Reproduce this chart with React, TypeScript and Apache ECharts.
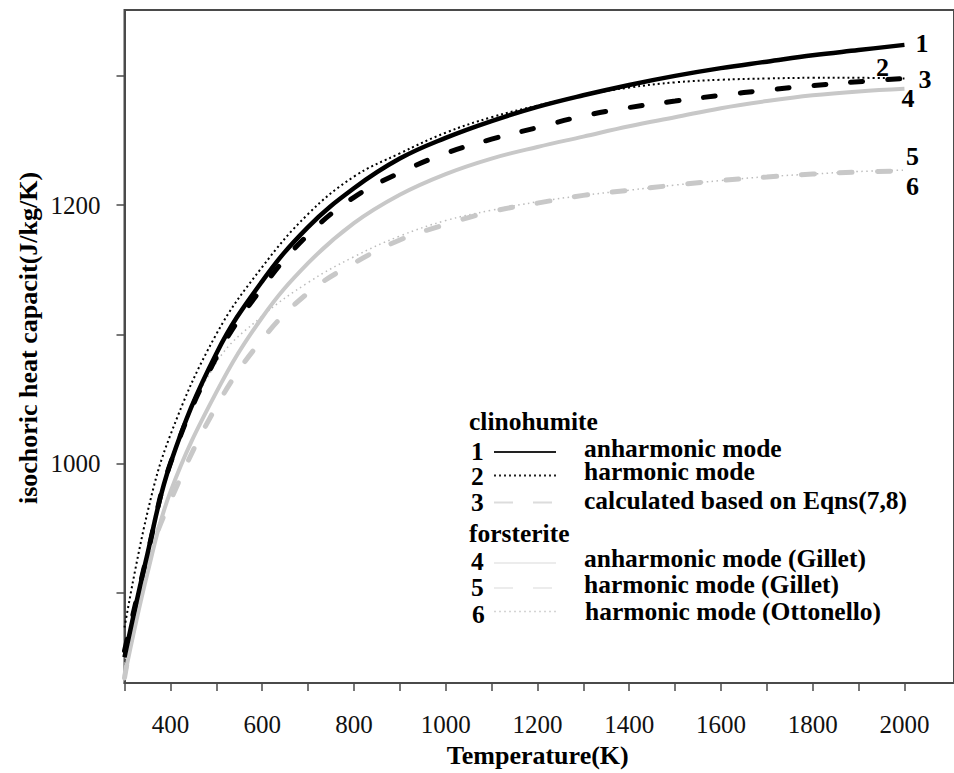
import React, { useEffect, useRef } from "react";
import * as echarts from "echarts";

// Temperature grid (K) shared by all curves
const temps = [300, 350, 400, 500, 600, 700, 800, 900, 1000, 1100, 1200, 1300, 1400, 1500, 1600, 1700, 1800, 1900, 2000];

// Clinohumite isochoric heat capacity (J/kg/K)
const clinoAnharmonic = [850, 930, 1000, 1085, 1141, 1183, 1213, 1236, 1252, 1265, 1276, 1285, 1293, 1300, 1306, 1311, 1316, 1320, 1324];
const clinoHarmonic = [873, 962, 1022, 1100, 1152, 1193, 1222, 1240, 1256, 1268, 1277, 1285, 1291, 1295, 1297, 1298, 1298.5, 1298.5, 1298];
const clinoEqns = [855, 930, 1000, 1082, 1136, 1177, 1206, 1225, 1240, 1251, 1260, 1269, 1275.5, 1280.5, 1285, 1289, 1292.5, 1295.5, 1298];

// Forsterite isochoric heat capacity (J/kg/K)
const forsAnharmonicGillet = [835, 915, 978, 1055, 1113, 1155, 1186, 1208, 1224, 1236, 1245, 1253, 1261, 1268, 1275, 1280.5, 1285, 1288, 1290];
const forsHarmonicGillet = [834, 922, 971, 1044, 1096, 1132, 1155, 1173, 1185, 1195, 1201.5, 1207.5, 1211.5, 1215.5, 1219, 1221.7, 1224, 1225.5, 1226.5];
const forsHarmonicOttonello = [845, 935, 1000, 1078, 1114, 1140, 1160, 1176, 1188, 1196, 1202.5, 1207.5, 1211.5, 1215.5, 1219, 1222, 1224, 1226, 1227];

// Axis ticks and labels
const xTicks = [300, 400, 500, 600, 700, 800, 900, 1000, 1100, 1200, 1300, 1400, 1500, 1600, 1700, 1800, 1900, 2000];
const xLabels = [400, 600, 800, 1000, 1200, 1400, 1600, 1800, 2000];
const yTicks = [900, 1000, 1100, 1200, 1300];
const yLabels = [1000, 1200];

const SERIF = '"Liberation Serif", "Times New Roman", serif';
const AXIS_COLOR = "#4a4a4a";
const LIGHT = "#c8c8c8";

const pairs = (vals: number[]) => temps.map((t, i) => [t, vals[i]]);
const plain = (v: number) => String(v);

const endLabel = (text: string, dx: number, dy: number) => ({
  show: true,
  formatter: text,
  offset: [dx, dy],
  color: "#000",
  fontFamily: SERIF,
  fontWeight: "bold",
  fontSize: 26,
});

export default function App() {
  const ref = useRef<HTMLDivElement>(null);

  useEffect(() => {
    document.body.style.margin = "0";
    if (!ref.current) return;
    const chart = echarts.init(ref.current, undefined, { renderer: "svg" });

    const legendFont = `bold 25.5px ${SERIF}`;
    const legendText = (text: string, x: number, y: number) => ({
      type: "text",
      x,
      y,
      style: { text, font: legendFont, fill: "#000", align: "left", verticalAlign: "middle" },
    });
    const legendLine = (y: number, stroke: string, width: number, dash?: number[]) => ({
      type: "line",
      shape: { x1: 494, y1: y, x2: 556, y2: y },
      style: { stroke, lineWidth: width, lineDash: dash },
    });

    chart.setOption({
      animation: false,
      grid: {
        left: 124.5,
        top: 10,
        right: -6,
        bottom: 81,
        show: true,
        borderColor: AXIS_COLOR,
        borderWidth: 2,
        backgroundColor: "transparent",
      },
      xAxis: {
        type: "value",
        min: 300,
        max: 2108,
        name: "Temperature(K)",
        nameLocation: "middle",
        nameGap: 56,
        nameTextStyle: { fontFamily: SERIF, fontWeight: "bold", fontSize: 26, color: "#000", padding: [0, 0, 0, -3] },
        axisLine: { show: true, lineStyle: { color: AXIS_COLOR, width: 2 } },
        axisTick: { show: true, length: 8, customValues: xTicks, lineStyle: { color: AXIS_COLOR, width: 1.5 } },
        axisLabel: { customValues: xLabels, formatter: plain, fontFamily: SERIF, fontSize: 25, color: "#111", margin: 29 },
        splitLine: { show: false },
      },
      yAxis: {
        type: "value",
        min: 830,
        max: 1351,
        axisLine: { show: true, lineStyle: { color: AXIS_COLOR, width: 2 } },
        axisTick: { show: true, length: 8, customValues: yTicks, lineStyle: { color: AXIS_COLOR, width: 1.5 } },
        axisLabel: { customValues: yLabels, formatter: plain, fontFamily: SERIF, fontSize: 25, color: "#111", margin: 24 },
        splitLine: { show: false },
      },
      series: [
        {
          name: "harmonic mode (Ottonello)",
          type: "line",
          data: pairs(forsHarmonicOttonello),
          showSymbol: false,
          smooth: 0.4,
          lineStyle: { color: "#bdbdbd", width: 1.5, type: [1.5, 3.5] },
          endLabel: endLabel("6", -6.5, 16),
          z: 2,
        },
        {
          name: "harmonic mode (Gillet)",
          type: "line",
          data: pairs(forsHarmonicGillet),
          showSymbol: false,
          smooth: 0.4,
          lineStyle: { color: LIGHT, width: 5, type: [13, 25], cap: "round" },
          endLabel: endLabel("5", -6.5, -14),
          z: 2,
        },
        {
          name: "anharmonic mode (Gillet)",
          type: "line",
          data: pairs(forsAnharmonicGillet),
          showSymbol: false,
          smooth: 0.4,
          lineStyle: { color: LIGHT, width: 4 },
          endLabel: endLabel("4", -11, 10),
          z: 2,
        },
        {
          name: "calculated based on Eqns(7,8)",
          type: "line",
          data: pairs(clinoEqns),
          showSymbol: false,
          smooth: 0.4,
          lineStyle: { color: "#000", width: 5, type: [12, 25], cap: "round" },
          endLabel: endLabel("3", 6, 1),
          z: 3,
        },
        {
          name: "harmonic mode",
          type: "line",
          data: pairs(clinoHarmonic),
          showSymbol: false,
          smooth: 0.4,
          lineStyle: { color: "#000", width: 2, type: [2, 3] },
          endLabel: endLabel("2", -36.5, -11),
          z: 3,
        },
        {
          name: "anharmonic mode",
          type: "line",
          data: pairs(clinoAnharmonic),
          showSymbol: false,
          smooth: 0.4,
          lineStyle: { color: "#000", width: 4.5 },
          endLabel: endLabel("1", 3, -1),
          z: 4,
        },
      ],
      graphic: [
        {
          type: "text",
          x: 28,
          y: 338,
          rotation: Math.PI / 2,
          style: {
            text: "isochoric heat capacit(J/kg/K)",
            font: `bold 26px ${SERIF}`,
            fill: "#000",
            align: "center",
            verticalAlign: "middle",
          },
        },
        legendText("clinohumite", 469, 421),
        legendText("1", 471, 451),
        legendLine(452, "#222", 2),
        legendText("anharmonic mode", 584, 448),
        legendText("2", 471, 476),
        legendLine(475.5, "#222", 2, [2, 3]),
        legendText("harmonic mode", 584, 471),
        legendText("3", 471, 502.5),
        legendLine(502.5, "#dcdcdc", 2, [19, 20]),
        legendText("calculated based on Eqns(7,8)", 584, 500),
        legendText("forsterite", 469, 533),
        legendText("4", 471, 561.5),
        legendLine(563, "#ececec", 2),
        legendText("anharmonic mode (Gillet)", 584, 558),
        legendText("5", 471, 587.5),
        legendLine(588, "#ececec", 2, [19, 20]),
        legendText("harmonic mode (Gillet)", 584, 584),
        legendText("6", 472, 614),
        legendLine(611.5, "#d4d4d4", 1.5, [2, 3]),
        legendText("harmonic mode (Ottonello)", 585, 611),
      ],
    });

    return () => chart.dispose();
  }, []);

  return <div ref={ref} style={{ width: 954, height: 773 }} />;
}
